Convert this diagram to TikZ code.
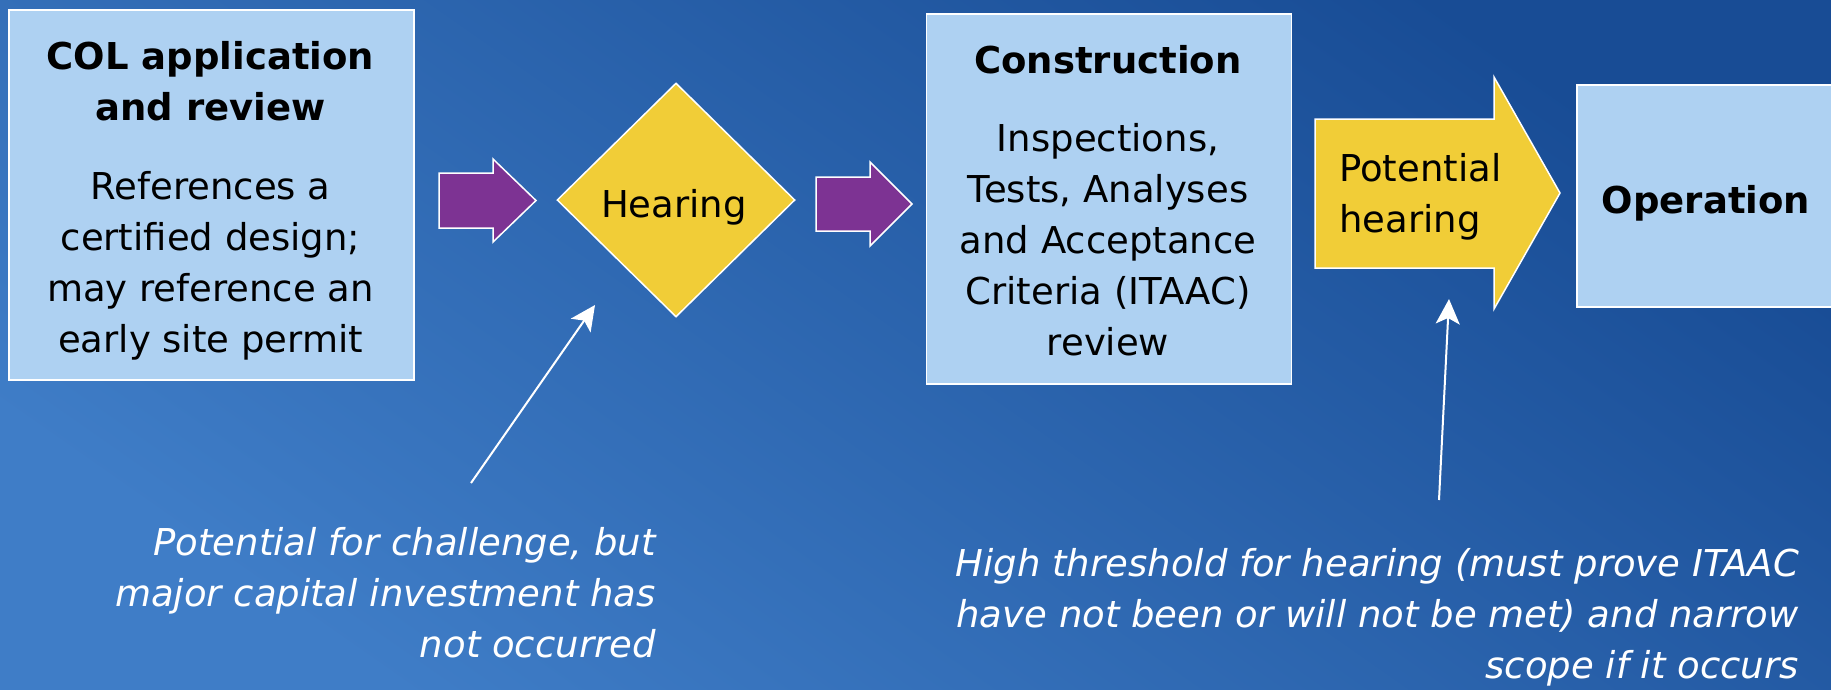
\documentclass[tikz,border=0pt]{standalone}
\usepackage{fontspec}
\setmainfont{DejaVu Sans}
\usetikzlibrary{shapes.geometric,arrows.meta}
\definecolor{boxblue}{HTML}{AED1F2}
\definecolor{arrpurple}{HTML}{7D3393}
\definecolor{hyellow}{HTML}{F1CD37}
\definecolor{bgdark}{HTML}{184C95}
\definecolor{bglight}{HTML}{3F7DC7}
\begin{document}
\begin{tikzpicture}[x=1pt,y=-1pt,
  box/.style={draw=white,line width=1.5pt,fill=boxblue,inner sep=0pt},
  txt/.style={inner sep=0pt,font=\fontsize{37}{51}\selectfont,align=center,text=black},
  note/.style={inner sep=0pt,font=\fontsize{37}{51}\selectfont\itshape,align=right,text=white},
  blockarrow/.style={draw=white,line width=1.5pt,line join=miter},
  wline/.style={draw=white,line width=2pt,-{Stealth[length=25pt,width=24pt,inset=6pt]}}
]
\useasboundingbox (0,0) rectangle (1831,689);
\shade[shading=axis,top color=bgdark,bottom color=bglight,shading angle=-35] (0,0) rectangle (1831,689);

% boxes
\node[box,anchor=north west,minimum width=405,minimum height=370] (col) at (8,9) {};
\node[box,anchor=north west,minimum width=365,minimum height=370] (cons) at (925.5,13) {};
\node[box,anchor=north west,minimum width=270,minimum height=222] (oper) at (1576,84) {};
\node[diamond,draw=white,line width=1.5pt,fill=hyellow,minimum width=238,minimum height=234,inner sep=0pt] (hear) at (676,200) {};

% block arrows
\path[blockarrow,fill=arrpurple] (439,173) -- (493,173) -- (493,159) -- (536,200.5) -- (493,242) -- (493,228) -- (439,228) -- cycle;
\path[blockarrow,fill=arrpurple] (816,177) -- (870,177) -- (870,162) -- (912,204) -- (870,246) -- (870,231) -- (816,231) -- cycle;
\path[blockarrow,fill=hyellow] (1315,119) -- (1494,119) -- (1494,77) -- (1560,193) -- (1494,309) -- (1494,268) -- (1315,268) -- cycle;

% texts (base anchor = baseline of last line)
\node[txt,anchor=base] (colT) at (210.5,120) {\bfseries COL application\\\bfseries and review};
\node[txt,anchor=base] (colB) at (210.5,352) {References a\\certified design;\\may reference an\\early site permit};
\node[txt,anchor=base] (hearT) at (674,217) {Hearing};
\node[txt,anchor=base] (consT) at (1108,73) {\bfseries Construction};
\node[txt,anchor=base] (consB) at (1108,355) {Inspections,\\Tests, Analyses\\and Acceptance\\Criteria (ITAAC)\\review};
\node[txt,anchor=base west,align=left] (potT) at (1339,232) {Potential\\hearing};
\node[txt,anchor=base] (operT) at (1706,213) {\bfseries Operation};

\node[note,anchor=base east] (n1) at (656,657) {Potential for challenge, but\\major capital investment has\\not occurred};
\node[note,anchor=base east] (n2) at (1799,678) {High threshold for hearing (must prove ITAAC\\have not been or will not be met) and narrow\\scope if it occurs};

% pointer lines
\coordinate (p1) at (471,483);
\coordinate (h1) at (595,305);
\coordinate (p2) at (1439,500);
\coordinate (h2) at (1449,299);
\draw[wline] (p1) -- (h1);
\draw[wline] (p2) -- (h2);
\end{tikzpicture}
\end{document}
